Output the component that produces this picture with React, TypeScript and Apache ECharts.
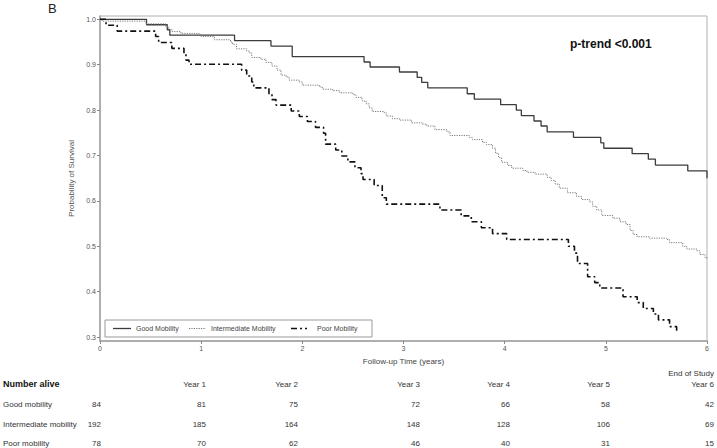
import React, { useEffect, useRef } from "react";
import * as echarts from "echarts";

// ---- Data ----
const goodTimes = [0, 0.46, 0.665, 0.69, 1.33, 1.69, 1.9, 2.61, 2.67, 2.96, 3.135, 3.18, 3.24, 3.63, 3.7, 3.96, 4.115, 4.165, 4.29, 4.36, 4.42, 4.68, 4.95, 4.98, 5.26, 5.42, 5.49, 5.81, 6.0];
const goodSurv = [1.0, 0.988, 0.977, 0.965, 0.953, 0.941, 0.918, 0.906, 0.895, 0.884, 0.872, 0.861, 0.849, 0.836, 0.824, 0.812, 0.8, 0.788, 0.776, 0.765, 0.752, 0.74, 0.728, 0.716, 0.704, 0.692, 0.679, 0.666, 0.65];

const interTimes = [0, 0.02, 0.455, 0.65, 0.68, 0.71, 0.8, 0.98, 1.0, 1.13, 1.29, 1.31, 1.35, 1.45, 1.48, 1.5, 1.59, 1.64, 1.7, 1.75, 1.79, 1.84, 1.87, 1.97, 2.0, 2.17, 2.2, 2.3, 2.37, 2.5, 2.53, 2.59, 2.63, 2.66, 2.69, 2.81, 2.83, 2.89, 2.96, 3.08, 3.19, 3.23, 3.31, 3.43, 3.46, 3.65, 3.68, 3.78, 3.82, 3.88, 3.91, 3.94, 3.97, 4.03, 4.07, 4.18, 4.22, 4.3, 4.42, 4.46, 4.5, 4.54, 4.62, 4.71, 4.76, 4.84, 4.87, 4.91, 4.96, 5.07, 5.14, 5.2, 5.24, 5.27, 5.31, 5.43, 5.6, 5.63, 5.76, 5.8, 5.9, 5.93, 5.98, 6.0];
const interSurv = [1.0, 0.996, 0.99, 0.984, 0.978, 0.973, 0.969, 0.966, 0.962, 0.955, 0.95, 0.945, 0.935, 0.93, 0.926, 0.916, 0.912, 0.905, 0.897, 0.888, 0.877, 0.873, 0.866, 0.862, 0.855, 0.851, 0.846, 0.843, 0.838, 0.834, 0.828, 0.82, 0.814, 0.805, 0.797, 0.794, 0.787, 0.781, 0.778, 0.772, 0.769, 0.765, 0.757, 0.752, 0.744, 0.74, 0.735, 0.729, 0.724, 0.716, 0.705, 0.695, 0.685, 0.678, 0.672, 0.667, 0.663, 0.659, 0.652, 0.645, 0.637, 0.628, 0.618, 0.61, 0.603, 0.598, 0.588, 0.58, 0.568, 0.562, 0.554, 0.548, 0.535, 0.526, 0.521, 0.518, 0.515, 0.508, 0.5, 0.494, 0.49, 0.482, 0.475, 0.472];

const poorTimes = [0, 0.06, 0.17, 0.55, 0.58, 0.71, 0.83, 0.85, 0.88, 1.4, 1.45, 1.5, 1.52, 1.67, 1.7, 1.74, 1.89, 1.97, 2.05, 2.13, 2.21, 2.23, 2.33, 2.39, 2.45, 2.52, 2.58, 2.6, 2.71, 2.79, 2.83, 3.36, 3.57, 3.67, 3.77, 3.88, 4.02, 4.63, 4.69, 4.72, 4.82, 4.89, 4.94, 5.17, 5.31, 5.37, 5.47, 5.52, 5.63, 5.7];
const poorSurv = [1.0, 0.987, 0.974, 0.962, 0.949, 0.936, 0.923, 0.91, 0.901, 0.888, 0.875, 0.862, 0.849, 0.836, 0.823, 0.811, 0.798, 0.786, 0.775, 0.762, 0.749, 0.725, 0.712, 0.699, 0.686, 0.673, 0.66, 0.647, 0.634, 0.607, 0.593, 0.58, 0.567, 0.554, 0.541, 0.528, 0.515, 0.5, 0.485, 0.462, 0.433, 0.42, 0.408, 0.389, 0.376, 0.363, 0.351, 0.338, 0.323, 0.31];

const seriesNames = ["Good Mobility", "Intermediate Mobility", "Poor Mobility"];
const yTicks = [0.3, 0.4, 0.5, 0.6, 0.7, 0.8, 0.9, 1.0];
const xTicks = [0, 1, 2, 3, 4, 5, 6];

const tableHeader = "Number alive";
const yearLabels = ["Year 1", "Year 2", "Year 3", "Year 4", "Year 5", "Year 6"];
const rowLabels = ["Good mobility", "Intermediate mobility", "Poor mobility"];
const goodAlive = [84, 81, 75, 72, 66, 58, 42];
const interAlive = [192, 185, 164, 148, 128, 106, 69];
const poorAlive = [78, 70, 62, 46, 40, 31, 15];

// ---- Layout constants ----
const numColX = [101, 206, 298, 420, 510, 610, 714];
const yearColX = [206, 298, 420, 510, 610, 714];
const rowY = [404, 424, 443];

const STYLES = {
  good: { color: "#3c3c3c", width: 1.3, type: "solid" as any },
  inter: { color: "#7a7a7a", width: 1, type: [1.2, 1.2] as any },
  poor: { color: "#111111", width: 1.6, type: [6, 3, 2, 3] as any },
};

function zip(t: number[], s: number[]) {
  return t.map((v, i) => [v, s[i]]);
}

export default function App() {
  const ref = useRef<HTMLDivElement>(null);
  useEffect(() => {
    if (!ref.current) return;
    const chart = echarts.init(ref.current, undefined, { renderer: "svg" });
    const font = "Arial, 'Liberation Sans', sans-serif";
    const texts: any[] = [];
    texts.push({ type: "text", left: 48, top: 2, style: { text: "B", fontSize: 13, fontFamily: font, fill: "#222" } });
    texts.push({ type: "text", x: 570, y: 44, style: { text: "p-trend <0.001", fontSize: 12, fontWeight: "bold", fontFamily: font, fill: "#111", verticalAlign: "middle" } });
    // legend box
    texts.push({ type: "rect", shape: { x: 105, y: 320, width: 267, height: 17 }, style: { fill: "none", stroke: "#9a9a9a", lineWidth: 1 } });
    const legendItems = [
      { x1: 113, x2: 131, tx: 136, st: STYLES.good },
      { x1: 189, x2: 206, tx: 211, st: STYLES.inter },
      { x1: 291, x2: 307, tx: 317, st: STYLES.poor },
    ];
    legendItems.forEach((it, i) => {
      texts.push({ type: "line", shape: { x1: it.x1, y1: 328.5, x2: it.x2, y2: 328.5 }, style: { stroke: it.st.color, lineWidth: it.st.width, lineDash: it.st.type === "solid" ? null : it.st.type } });
      texts.push({ type: "text", x: it.tx, y: 328.5, style: { text: seriesNames[i], fontSize: 7, fontFamily: font, fill: "#444", verticalAlign: "middle" } });
    });
    // table
    const tf = { fontSize: 8, fontFamily: font, fill: "#333", verticalAlign: "middle" };
    texts.push({ type: "text", x: 3, y: 384, style: { ...tf, text: tableHeader, fontSize: 9, fontWeight: "bold", fill: "#111" } });
    texts.push({ type: "text", x: 714, y: 373, style: { ...tf, text: "End of Study", align: "right" } });
    yearLabels.forEach((lab, i) => {
      texts.push({ type: "text", x: yearColX[i], y: 384, style: { ...tf, text: lab, align: "right" } });
    });
    const rows = [goodAlive, interAlive, poorAlive];
    rows.forEach((vals, r) => {
      texts.push({ type: "text", x: 3, y: rowY[r], style: { ...tf, text: rowLabels[r] } });
      vals.forEach((v, c) => {
        texts.push({ type: "text", x: numColX[c], y: rowY[r], style: { ...tf, text: String(v), align: "right" } });
      });
    });

    const mk = (name: string, data: number[][], st: any) => ({
      name,
      type: "line",
      step: "end",
      symbol: "none",
      data,
      lineStyle: { color: st.color, width: st.width, type: st.type },
      itemStyle: { color: st.color },
      z: 3,
    });

    chart.setOption({
      animation: false,
      backgroundColor: "#fff",
      grid: { left: 100, right: 10, top: 16, bottom: 107, show: true, borderColor: "#b0b0b0", borderWidth: 1 },
      xAxis: {
        type: "value",
        min: 0,
        max: 6,
        interval: 1,
        name: "Follow-up Time (years)",
        nameLocation: "middle",
        nameGap: 16,
        nameTextStyle: { fontSize: 8, color: "#444", fontFamily: font },
        axisLine: { show: true, lineStyle: { color: "#a0a0a0", width: 1.5 } },
        axisTick: { show: true, length: 3, lineStyle: { color: "#888" } },
        axisLabel: { fontSize: 7, color: "#555", margin: 4, fontFamily: font, customValues: xTicks },
        splitLine: { show: false },
      },
      yAxis: {
        type: "value",
        min: 0.2914,
        max: 1.0073,
        name: "Probability of Survival",
        nameLocation: "middle",
        nameGap: 21,
        nameTextStyle: { fontSize: 8, color: "#555", fontFamily: font },
        axisLine: { show: true, lineStyle: { color: "#a0a0a0", width: 1.5 } },
        axisTick: { show: true, length: 3, lineStyle: { color: "#888" }, customValues: yTicks },
        axisLabel: { fontSize: 7, color: "#555", margin: 4, fontFamily: font, customValues: yTicks, formatter: (v: number) => v.toFixed(1) },
        splitLine: { show: false },
      },
      series: [
        mk(seriesNames[0], zip(goodTimes, goodSurv), STYLES.good),
        mk(seriesNames[1], zip(interTimes, interSurv), STYLES.inter),
        mk(seriesNames[2], zip(poorTimes, poorSurv), STYLES.poor),
      ],
      graphic: texts,
    });
    return () => chart.dispose();
  }, []);
  return <div ref={ref} style={{ width: 717, height: 448, position: "absolute", left: 0, top: 0 }} />;
}
